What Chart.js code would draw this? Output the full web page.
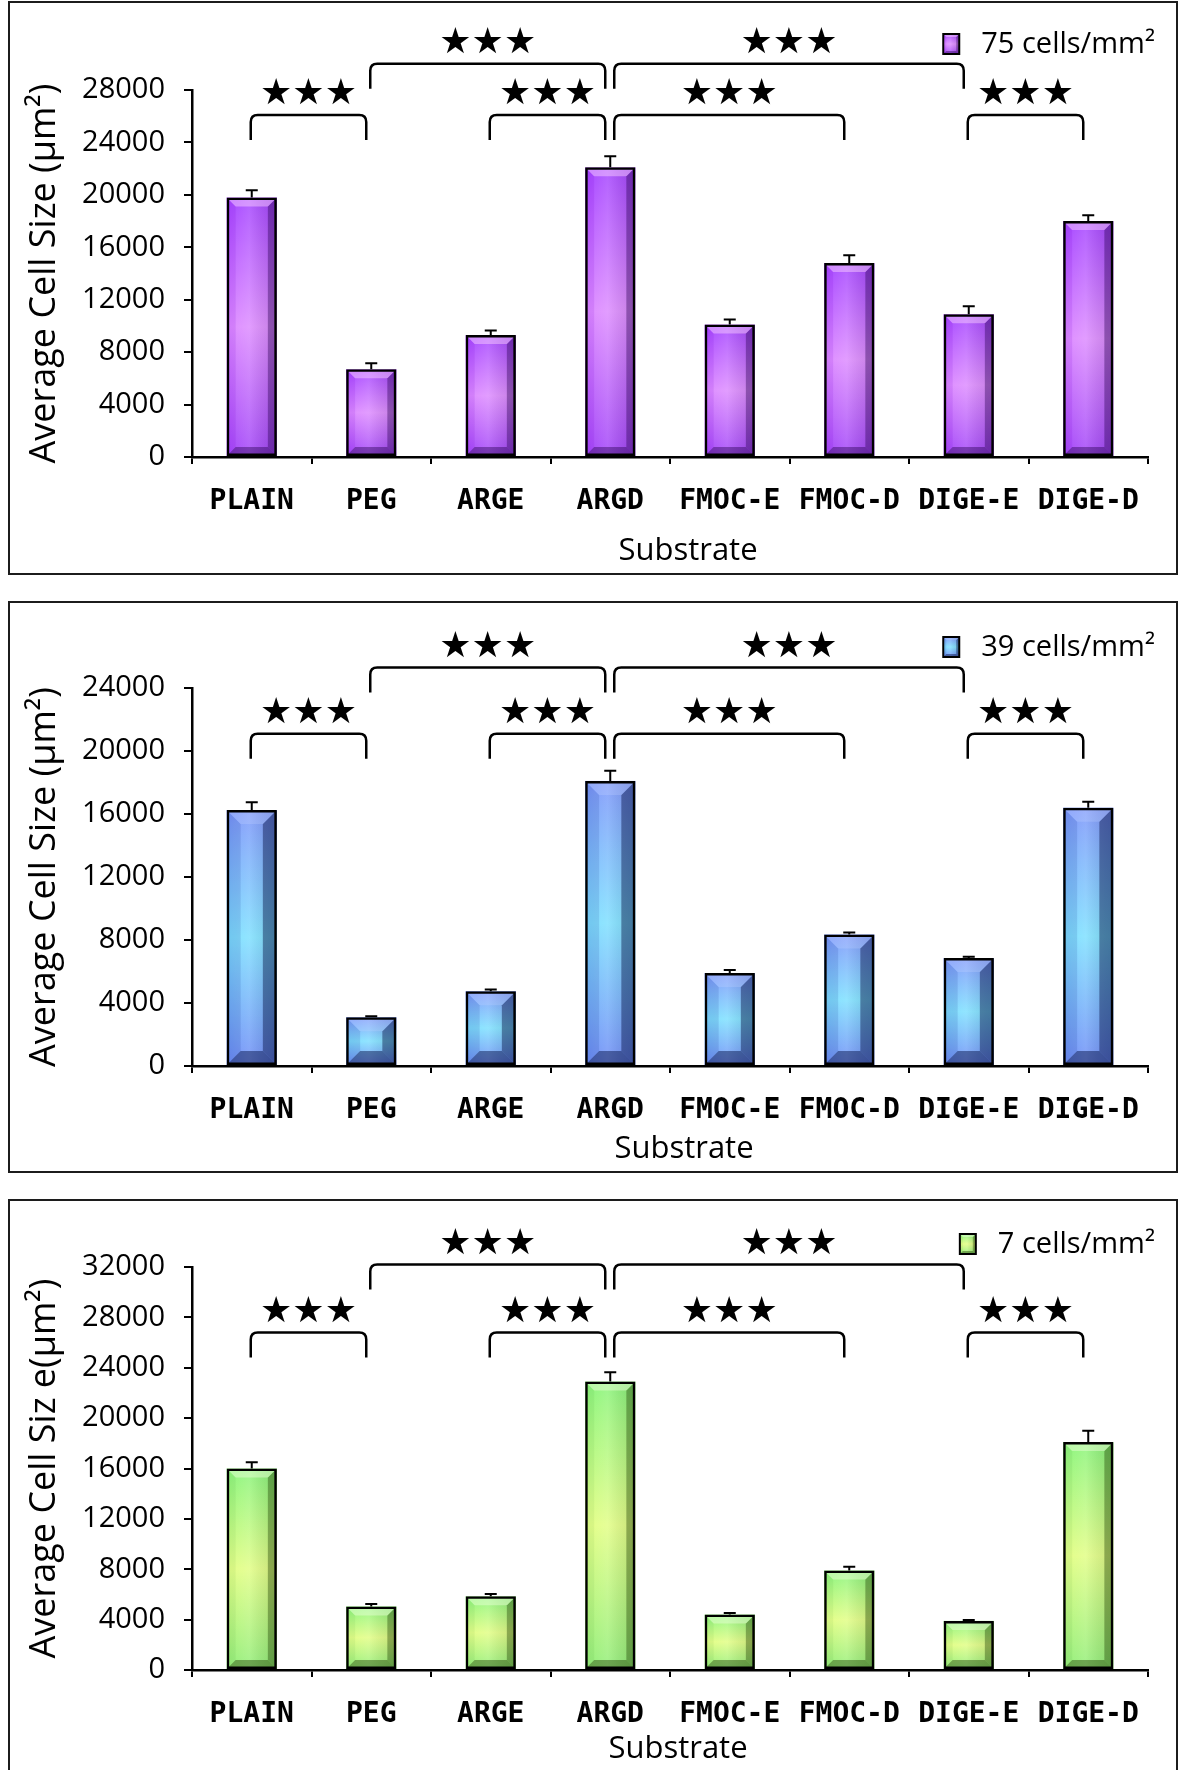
<!DOCTYPE html>
<html>
<head>
<meta charset="utf-8">
<script src="https://cdn.jsdelivr.net/npm/chart.js@4.4.0/dist/chart.umd.min.js"></script>
<style>
  body { margin: 0; background: #fff; width: 1181px; height: 1770px; overflow: hidden; position: relative; }
  .panel { position: absolute; left: 0; width: 1181px; }
  .frame { position: absolute; left: 8px; width: 1166px; border: 2px solid #1c1c1c; }
</style>
</head>
<body>
<div class="frame" style="top:1px;height:570px"></div>
<div class="frame" style="top:601px;height:568px"></div>
<div class="frame" style="top:1199px;height:600px"></div>
<div class="panel" style="top:0;height:580px"><canvas id="c75"></canvas></div>
<div class="panel" style="top:590px;height:590px"><canvas id="c39"></canvas></div>
<div class="panel" style="top:1190px;height:580px"><canvas id="c7"></canvas></div>
<script>
// substrates on the x axis
const substrates = ['PLAIN', 'PEG', 'ARGE', 'ARGD', 'FMOC-E', 'FMOC-D', 'DIGE-E', 'DIGE-D'];

// average cell size (µm²) and upper error, per seeding density
const size75 = [19800, 6700, 9300, 22100, 10100, 14800, 10900, 18000];
const err75  = [550, 450, 350, 850, 400, 600, 600, 450];
const size39 = [16250, 3100, 4750, 18100, 5900, 8350, 6850, 16400];
const err39  = [500, 60, 100, 650, 200, 120, 80, 380];
const size7  = [16000, 5050, 5850, 22900, 4400, 7900, 3900, 18100];
const err7   = [500, 200, 180, 750, 120, 300, 80, 900];

// significance brackets: [from, to, tier] (tier 0 = upper row, 1 = lower row)
const brackets = [[0, 1, 1], [1, 3, 0], [2, 3, 1], [3, 6, 0], [3, 5, 1], [6, 7, 1]];
const stars = '★★★';

const sansFont = 'Open Sans';
const labelFont = 'DejaVu Sans Mono';

// bevelled "3D" bar face
function paintBevel(ctx, l, t, w, h, look) {
  const r = l + w, b = t + h;
  if (h <= 0) return;
  const g = ctx.createLinearGradient(0, t, 0, b);
  g.addColorStop(0, look.top);
  g.addColorStop(0.5, look.mid);
  g.addColorStop(1, look.bottom);
  ctx.fillStyle = g;
  ctx.fillRect(l, t, w, h);
  const sheen = ctx.createLinearGradient(l, 0, r, 0);
  sheen.addColorStop(0, 'rgba(255,255,255,0)');
  sheen.addColorStop(0.45, 'rgba(255,255,255,0.15)');
  sheen.addColorStop(1, 'rgba(0,0,0,0.1)');
  ctx.fillStyle = sheen;
  ctx.fillRect(l, t, w, h);
  const e = Math.min(look.edge, w / 2, h / 2);
  const poly = (pts, col) => {
    ctx.beginPath();
    ctx.moveTo(pts[0][0], pts[0][1]);
    pts.slice(1).forEach(p => ctx.lineTo(p[0], p[1]));
    ctx.closePath();
    ctx.fillStyle = col;
    ctx.fill();
  };
  poly([[l, t], [l + e, t + e], [l + e, b - e], [l, b]], look.leftShade);
  poly([[r, t], [r - e, t + e], [r - e, b - e], [r, b]], look.rightShade);
  poly([[l, t], [r, t], [r - e, t + e], [l + e, t + e]], look.topShade);
  poly([[l, b], [r, b], [r - e, b - e], [l + e, b - e]], look.baseShade);
}

const barLook = {
  id: 'barLook',
  beforeDatasetsDraw(chart, args, opts) {
    const ctx = chart.ctx;
    ctx.save();
    chart.getDatasetMeta(0).data.forEach(bar => {
      const p = bar.getProps(['x', 'y', 'base', 'width'], true);
      paintBevel(ctx, p.x - p.width / 2, p.y, p.width, p.base - p.y, opts.look);
    });
    ctx.restore();
  },
  afterDatasetsDraw(chart, args, opts) {
    // upper error bars
    const ctx = chart.ctx, ys = chart.scales.y;
    const vals = chart.data.datasets[0].data;
    ctx.save();
    ctx.strokeStyle = '#000';
    ctx.lineWidth = 2;
    chart.getDatasetMeta(0).data.forEach((bar, i) => {
      const y0 = ys.getPixelForValue(vals[i]);
      const y1 = ys.getPixelForValue(vals[i] + opts.errors[i]);
      ctx.beginPath();
      ctx.moveTo(bar.x, y0);
      ctx.lineTo(bar.x, y1);
      ctx.moveTo(bar.x - 6, y1);
      ctx.lineTo(bar.x + 6, y1);
      ctx.stroke();
    });
    ctx.restore();
  },
  afterDraw(chart, args, opts) {
    const ctx = chart.ctx, xs = chart.scales.x, ys = chart.scales.y;
    ctx.save();
    ctx.strokeStyle = '#000';
    ctx.fillStyle = '#000';
    ctx.lineWidth = 2.5;
    ctx.font = '36px "DejaVu Sans"';
    ctx.textAlign = 'center';
    ctx.textBaseline = 'middle';
    brackets.forEach(([a, b, tier]) => {
      const x1 = xs.getPixelForValue(a) + (a === 3 ? 4 : -1);
      const x2 = xs.getPixelForValue(b) - 5;
      const yTop = ys.getPixelForValue(opts.tiers[tier]);
      const yLeg = yTop + 25, rad = 7;
      ctx.beginPath();
      ctx.moveTo(x1, yLeg);
      ctx.lineTo(x1, yTop + rad);
      ctx.quadraticCurveTo(x1, yTop, x1 + rad, yTop);
      ctx.lineTo(x2 - rad, yTop);
      ctx.quadraticCurveTo(x2, yTop, x2, yTop + rad);
      ctx.lineTo(x2, yLeg);
      ctx.stroke();
      ctx.fillText(stars, (x1 + x2) / 2, yTop - 20);
    });
    // x axis title
    ctx.font = '31px "' + sansFont + '"';
    ctx.fillText('Substrate', opts.xTitle[0], opts.xTitle[1]);
    // legend in the top right corner
    ctx.font = '29px "' + sansFont + '"';
    ctx.textAlign = 'right';
    const tx = 1155, ty = opts.legendY;
    ctx.fillText(opts.legendText, tx, ty);
    const tw = ctx.measureText(opts.legendText).width;
    const sx = tx - tw - 38;
    paintBevel(ctx, sx, ty - 11, 16, 20, Object.assign({}, opts.look, { edge: 3 }));
    ctx.lineWidth = 2;
    ctx.strokeRect(sx, ty - 11, 16, 20);
    ctx.restore();
  }
};

const looks = {
  purple: {
    top: '#a544ff', mid: '#dd8cff', bottom: '#a244f8', edge: 9,
    leftShade: 'rgba(120,0,210,0.12)', rightShade: 'rgba(40,0,80,0.38)',
    topShade: 'rgba(255,215,255,0.45)', baseShade: 'rgba(40,0,80,0.42)'
  },
  blue: {
    top: '#7c96fa', mid: '#7fe0ff', bottom: '#6e8cf6', edge: 14,
    leftShade: 'rgba(0,30,130,0.12)', rightShade: 'rgba(0,10,60,0.42)',
    topShade: 'rgba(200,215,255,0.25)', baseShade: 'rgba(0,10,60,0.45)'
  },
  green: {
    top: '#8af47a', mid: '#e2fe86', bottom: '#92ee78', edge: 9,
    leftShade: 'rgba(0,80,0,0.05)', rightShade: 'rgba(30,60,0,0.38)',
    topShade: 'rgba(240,255,220,0.45)', baseShade: 'rgba(30,60,0,0.42)'
  }
};

function makePanel(id, values, errors, p) {
  const tickFont = { family: sansFont, size: 29 };
  const titleFont = { family: sansFont, size: 36 };
  return new Chart(document.getElementById(id), {
    type: 'bar',
    data: {
      labels: substrates,
      datasets: [{
        data: values,
        backgroundColor: 'rgba(0,0,0,0)',
        borderColor: '#000',
        borderWidth: 2.5,
        borderSkipped: false,
        barPercentage: 0.42,
        categoryPercentage: 1
      }]
    },
    options: {
      responsive: true,
      maintainAspectRatio: false,
      animation: false,
      layout: { padding: { left: 0, right: 33, top: p.top, bottom: 0 } },
      plugins: {
        legend: { display: false },
        tooltip: { enabled: false },
        barLook: {
          look: p.look, errors: errors, tiers: p.tiers,
          legendText: p.legend, legendY: p.legendY, xTitle: p.xTitle
        }
      },
      scales: {
        x: {
          grid: { drawOnChartArea: false, color: '#000', lineWidth: 2, tickLength: 7, offset: true },
          border: { color: '#000', width: 2.5 },
          ticks: { color: '#000', font: { family: labelFont, size: 28, weight: 'bold' }, padding: 21, maxRotation: 0, autoSkip: false },
          afterFit: s => { s.height = p.height - p.bottom; }
        },
        y: {
          min: 0,
          max: p.max,
          grid: { drawOnChartArea: false, color: '#000', lineWidth: 2, tickLength: 8 },
          border: { color: '#000', width: 2.5 },
          ticks: { stepSize: 4000, color: '#000', font: tickFont, padding: 19, callback: v => String(v) },
          title: { display: true, text: p.title, color: '#000', font: titleFont, padding: { top: 23, bottom: 0 } },
          afterFit: s => { s.width = 192; }
        }
      }
    },
    plugins: [barLook]
  });
}

makePanel('c75', size75, err75, {
  look: looks.purple, max: 28000, top: 90, bottom: 457, height: 580,
  tiers: [30000, 26100], legend: '75 cells/mm²', legendY: 45, xTitle: [688, 551],
  title: 'Average Cell Size (μm²)'
});
makePanel('c39', size39, err39, {
  look: looks.blue, max: 24000, top: 98, bottom: 476, height: 590,
  tiers: [25300, 21100], legend: '39 cells/mm²', legendY: 58, xTitle: [684, 559],
  title: 'Average Cell Size (μm²)'
});
makePanel('c7', size7, err7, {
  look: looks.green, max: 32000, top: 77, bottom: 480, height: 580,
  tiers: [32200, 26800], legend: '7 cells/mm²', legendY: 55, xTitle: [678, 559],
  title: 'Average Cell Siz e(μm²)'
});
</script>
</body>
</html>
